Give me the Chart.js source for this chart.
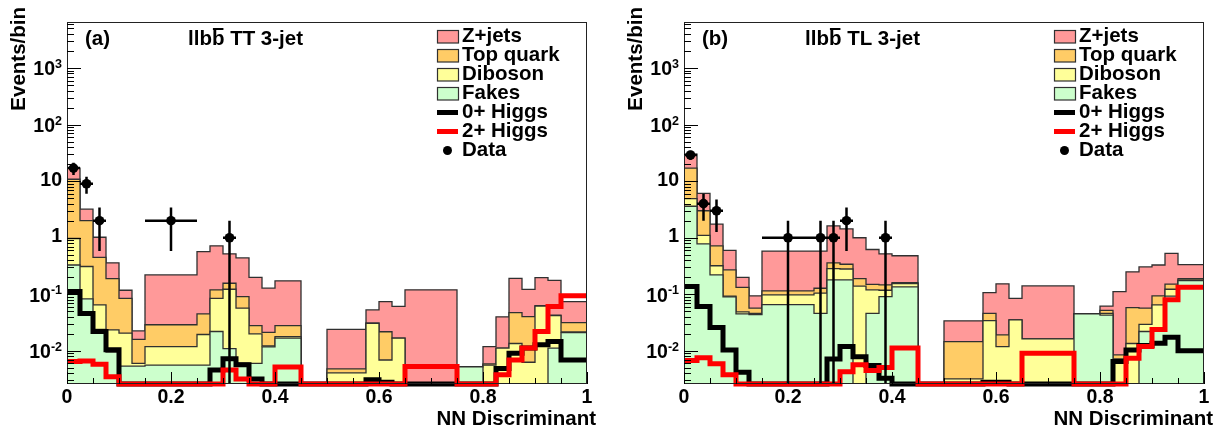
<!DOCTYPE html>
<html lang="en">
<head>
  <meta charset="UTF-8" />
  <title>NN Discriminant - llbb 3-jet</title>
  <script src="https://cdn.jsdelivr.net/npm/chart.js"></script>
  <style>
    body {
      margin: 0;
      background: #fff;
    }
    .wrap {
      position: relative;
      width: 1229px;
      height: 430px;
    }
    canvas {
      position: absolute;
      top: 0;
    }
    #chartTT { left: 0; }
    #chartTL { left: 614px; }
  </style>
</head>
<body>
  <div class="wrap">
    <canvas id="chartTT" width="614" height="430"></canvas>
    <canvas id="chartTL" width="615" height="430"></canvas>
  </div>

  <script>
    // bin edges of the NN discriminant (variable width, same in both panels)
    const binEdges = [0, 0.025, 0.05, 0.075, 0.1, 0.125, 0.15, 0.25, 0.275, 0.3, 0.325, 0.35, 0.375, 0.4, 0.45,
                      0.5, 0.575, 0.6, 0.625, 0.65, 0.75, 0.8, 0.825, 0.85, 0.875, 0.9, 0.925, 0.95, 1];

    // (a) TT 3-jet: per-process yields in each bin
    const zjetsTT   = [6.1, 1.2, 0.57, 0.17, 0.033, 0.0065, 0.191, 0.525, 0.60, 0.363, 0.349, 0.172, 0.107, 0.145,
                       0, 0.0193, 0.0222, 0.0522, 0.0442, 0.12, 0, 0.006, 0.0288, 0.1445, 0.0817, 0.134, 0.134, 0.0424];
    const topTT     = [9.83, 1.69, 0.385, 0.1665, 0.0644, 0.01, 0.0171, 0.0255, 0.035, 0.034, 0.034, 0.008, 0.009, 0.0101,
                       0, 0.0007, 0, 0.0149, 0, 0, 0, 0.0003, 0, 0.034, 0.034, 0.001, 0.001, 0.0099];
    const dibosonTT = [0.64, 0.227, 0.041, 0.014, 0.0152, 0.0006, 0.0063, 0.0139, 0.063, 0.112, 0.0509, 0.014, 0.0004, 0.0011,
                       0, 0.0041, 0.0308, 0.0069, 0.0168, 0, 0, 0.0056, 0.0112, 0.0135, 0.0063, 0.062, 0.0308, 0.0007];
    const fakesTT   = [0.33, 0.083, 0.024, 0.0095, 0.0054, 0.0054, 0.0056, 0.0056, 0.022, 0.011, 0.0061, 0.006, 0.0118, 0.0168,
                       0, 0, 0, 0, 0, 0, 0.0052, 0, 0, 0, 0, 0, 0.0112, 0.021];
    const higgs0TT  = [0.112, 0.046, 0.022, 0.0105, 0, 0, 0, 0, 0.0046, 0.0073, 0.0057, 0.0032, 0, 0,
                       0, 0, 0.0031, 0.0028, 0, 0, 0, 0, 0.0049, 0.0091, 0.0112, 0.0128, 0.0146, 0.0069];
    const higgs2TT  = [0.0065, 0.0066, 0.0058, 0.0035, 0, 0, 0, 0, 0, 0.0046, 0.0032, 0, 0, 0.0052,
                       0, 0, 0, 0, 0, 0.0053, 0, 0, 0.0038, 0.0069, 0.0112, 0.022, 0.061, 0.094];
    const dataXTT   = [0.0125, 0.0375, 0.0625, 0.2, 0.3125];
    const dataYTT   = [17, 9, 2, 2, 1];

    // (b) TL 3-jet
    const zjetsTL   = [13, 3.1, 1.02, 0.33, 0.067, 0.037, 0.465, 0.452, 1.26, 1.09, 0.81, 0.47, 0.373, 0.32,
                       0, 0.0194, 0.061, 0.1338, 0.0497, 0.1247, 0, 0.01, 0.1035, 0.192, 0.248, 0.236, 0.379, 0.145];
    const topTL     = [12.1, 1.9, 0.4, 0.177, 0.084, 0.011, 0.017, 0.023, 0.075, 0.06, 0.05, 0.03, 0.029, 0.005,
                       0, 0.0114, 0.0117, 0.0073, 0, 0, 0, 0.006, 0.0013, 0.0445, 0.0275, 0.029, 0.028, 0.01];
    const dibosonTL = [1.3, 0.32, 0.1, 0.003, 0.004, 0.002, 0.032, 0.059, 0.105, 0.1, 0.14, 0.074, 0.027, 0.02,
                       0, 0.0032, 0.0343, 0.0119, 0.0353, 0.0163, 0, 0.003, 0.0072, 0.0135, 0.0075, 0.041, 0.03, 0.005];
    const fakesTL   = [3.6, 0.78, 0.22, 0.09, 0.045, 0.044, 0.066, 0.046, 0.18, 0.18, 0, 0.046, 0.091, 0.135,
                       0, 0, 0, 0, 0, 0, 0.045, 0.043, 0, 0, 0.022, 0.024, 0.093, 0.175];
    const higgs0TL  = [0.137, 0.061, 0.026, 0.0104, 0.0042, 0, 0, 0, 0.0072, 0.0119, 0.0079, 0.0055, 0.0033, 0,
                       0, 0, 0.0028, 0.0028, 0, 0, 0, 0, 0.0065, 0.0104, 0.0125, 0.0137, 0.0175, 0.0101];
    const higgs2TL  = [0.0068, 0.0076, 0.0059, 0.0038, 0, 0, 0, 0, 0, 0.0043, 0.0057, 0.0045, 0.0051, 0.0112,
                       0, 0, 0, 0, 0, 0.0091, 0, 0, 0, 0.0074, 0.012, 0.024, 0.08, 0.133];
    const dataXTL   = [0.0125, 0.0375, 0.0625, 0.2, 0.2625, 0.2875, 0.3125, 0.3875];
    const dataYTL   = [29, 4, 3, 1, 1, 1, 2, 1];

    // axis ticks and legend text
    const xTickValues = [0, 0.2, 0.4, 0.6, 0.8, 1];
    const xTickLabels = ['0', '0.2', '0.4', '0.6', '0.8', '1'];
    const yTickValues = [0.01, 0.1, 1, 10, 100, 1000];
    const yTickBase   = ['10', '10', '1', '10', '10', '10'];
    const yTickExp    = ['-2', '-1', '', '', '2', '3'];
    const legendLabels = ['Z+jets', 'Top quark', 'Diboson', 'Fakes', '0+ Higgs', '2+ Higgs', 'Data'];

    const FONT = '"Liberation Sans", Arial, sans-serif';
    const YMIN = 0.0026, YMAX = 6500;
    const colZjets = '#ff9999', colTop = '#ffcc66', colDiboson = '#ffff99', colFakes = '#ccffcc';
    const colOutline = '#303030';

    // histogram -> points for a stepped line (left edge of each bin + final right edge)
    function stepPoints(vals, floor) {
      const pts = vals.map((v, i) => ({ x: binEdges[i], y: Math.max(v, floor) }));
      pts.push({ x: binEdges[vals.length], y: pts[pts.length - 1].y });
      return pts;
    }

    // running sums, bottom layer first
    function stackUp(...layers) {
      let run = layers[0].map(() => 0);
      return layers.map(l => (run = run.map((s, i) => s + l[i])));
    }

    const rootStyle = {
      id: 'rootStyle',
      afterDatasetsDraw(chart) {
        const { ctx, chartArea: a, scales: { x, y } } = chart;
        const o = chart.options.plugins.rootStyle;
        ctx.save();

        // data error bars
        ctx.strokeStyle = '#000';
        ctx.lineWidth = 2.5;
        o.dataX.forEach((dx, i) => {
          const n = o.dataY[i], e = Math.sqrt(n);
          const k = binEdges.findIndex((b, j) => dx >= b && dx < binEdges[j + 1]);
          const px = x.getPixelForValue(dx), py = y.getPixelForValue(n);
          const yHi = y.getPixelForValue(n + e);
          const yLo = n - e > YMIN ? y.getPixelForValue(n - e) : a.bottom;
          ctx.beginPath();
          ctx.moveTo(px, yHi); ctx.lineTo(px, yLo);
          ctx.moveTo(x.getPixelForValue(binEdges[k]), py);
          ctx.lineTo(x.getPixelForValue(binEdges[k + 1]), py);
          ctx.stroke();
        });

        // frame
        ctx.strokeStyle = '#222';
        ctx.lineWidth = 1;
        ctx.strokeRect(a.left + 0.5, a.top + 0.5, a.right - a.left - 1, a.bottom - a.top - 1);

        // inward ticks
        ctx.strokeStyle = '#000';
        ctx.beginPath();
        for (let i = 0; i <= 20; i++) {
          const px = Math.round(x.getPixelForValue(i / 20)) + 0.5;
          const len = i % 4 === 0 ? 12 : 6;
          ctx.moveTo(px, a.bottom); ctx.lineTo(px, a.bottom - len);
        }
        for (let d = -3; d <= 3; d++) {
          for (let m = 1; m <= 9; m++) {
            const v = m * Math.pow(10, d);
            if (v < YMIN || v > YMAX) continue;
            const py = Math.round(y.getPixelForValue(v)) + 0.5;
            ctx.moveTo(a.left, py); ctx.lineTo(a.left + (m === 1 ? 14 : 7), py);
          }
        }
        ctx.stroke();
        ctx.restore();
      },
      afterDraw(chart) {
        const { ctx, chartArea: a, scales: { x, y } } = chart;
        const o = chart.options.plugins.rootStyle;
        ctx.save();
        ctx.fillStyle = '#000';

        // tick labels
        ctx.font = `bold 19.5px ${FONT}`;
        ctx.textAlign = 'center';
        ctx.textBaseline = 'alphabetic';
        xTickValues.forEach((v, i) => ctx.fillText(xTickLabels[i], x.getPixelForValue(v), a.bottom + 19));

        ctx.textAlign = 'right';
        yTickValues.forEach((v, i) => {
          const py = y.getPixelForValue(v);
          let right = a.left - 5;
          if (yTickExp[i]) {
            ctx.font = `bold 12.5px ${FONT}`;
            ctx.textBaseline = 'alphabetic';
            ctx.fillText(yTickExp[i], right, py);
            right -= ctx.measureText(yTickExp[i]).width;
            ctx.font = `bold 19.5px ${FONT}`;
            ctx.textBaseline = 'middle';
            ctx.fillText(yTickBase[i], right, py + 2);
          } else {
            ctx.font = `bold 19.5px ${FONT}`;
            ctx.textBaseline = 'middle';
            ctx.fillText(yTickBase[i], right, py - 1);
          }
        });

        // axis titles
        ctx.font = `bold 20.5px ${FONT}`;
        ctx.textBaseline = 'alphabetic';
        ctx.textAlign = 'right';
        ctx.fillText('NN Discriminant', a.right + 9, a.bottom + 41);
        ctx.save();
        ctx.translate(a.left - 42, a.top - 15);
        ctx.rotate(-Math.PI / 2);
        ctx.fillText('Events/bin', 0, 0);
        ctx.restore();

        // panel label and channel title (llb + b with a bar)
        ctx.textAlign = 'left';
        const ty = a.top + 23;
        ctx.fillText(o.tag, a.left + 18, ty);
        let tx = a.left + 121;
        ctx.fillText('llb', tx, ty);
        tx += ctx.measureText('llb').width;
        const bw = ctx.measureText('b').width;
        ctx.fillText('b', tx, ty);
        ctx.fillRect(tx + 1, ty - 17, bw - 2, 2);
        tx += bw;
        ctx.fillText(' ' + o.region + ' 3-jet', tx, ty);

        // legend
        const fills = [colZjets, colTop, colDiboson, colFakes];
        const sx = a.left + 370, sw = 21;
        legendLabels.forEach((lab, i) => {
          const cy = a.top + 14.5 + 19 * i;
          if (i < 4) {
            ctx.fillStyle = fills[i];
            ctx.fillRect(sx, cy - 6.5, sw, 13);
            ctx.strokeStyle = colOutline;
            ctx.lineWidth = 1.2;
            ctx.strokeRect(sx + 0.5, cy - 6, sw, 12.5);
          } else if (i < 6) {
            ctx.fillStyle = i === 4 ? '#000' : '#ff0000';
            ctx.fillRect(sx, cy - 2.5, sw, 5);
          } else {
            ctx.fillStyle = '#000';
            ctx.beginPath();
            ctx.arc(sx + sw / 2, cy, 4.5, 0, Math.PI * 2);
            ctx.fill();
          }
          ctx.fillStyle = '#000';
          ctx.font = `bold 20.5px ${FONT}`;
          ctx.fillText(lab, a.left + 395, cy + 5);
        });
        ctx.restore();
      }
    };

    function buildPanel(canvasId, tag, region, s, pad) {
      const [cFakes, cDib, cTop, cZ] = stackUp(s.fakes, s.diboson, s.top, s.zjets);
      const filled = (vals, color, order) => ({
        data: stepPoints(vals, 1e-6), stepped: 'before', fill: 'start',
        backgroundColor: color, borderColor: colOutline, borderWidth: 1.3,
        pointRadius: 0, order
      });
      const line = (vals, color, order) => ({
        data: stepPoints(vals, YMIN), stepped: 'before', fill: false,
        borderColor: color, borderWidth: 5, borderJoinStyle: 'miter',
        pointRadius: 0, clip: false, order
      });

      return new Chart(document.getElementById(canvasId), {
        type: 'line',
        data: {
          datasets: [
            filled(cZ, colZjets, 9),
            filled(cTop, colTop, 8),
            filled(cDib, colDiboson, 7),
            filled(cFakes, colFakes, 6),
            line(s.higgs0, '#000000', 3),
            line(s.higgs2, '#ff0000', 2),
            {
              data: s.dataX.map((v, i) => ({ x: v, y: s.dataY[i] })),
              showLine: false, pointRadius: 4.8, pointBackgroundColor: '#000',
              pointBorderWidth: 0, order: 1
            }
          ]
        },
        options: {
          responsive: false,
          animation: false,
          devicePixelRatio: 1,
          events: [],
          layout: { padding: pad },
          scales: {
            x: { type: 'linear', min: 0, max: 1, display: false },
            y: { type: 'logarithmic', min: YMIN, max: YMAX, display: false }
          },
          plugins: {
            legend: { display: false },
            tooltip: { enabled: false },
            rootStyle: { tag, region, dataX: s.dataX, dataY: s.dataY }
          }
        },
        plugins: [rootStyle]
      });
    }

    buildPanel('chartTT', '(a)', 'TT', {
      zjets: zjetsTT, top: topTT, diboson: dibosonTT, fakes: fakesTT,
      higgs0: higgs0TT, higgs2: higgs2TT, dataX: dataXTT, dataY: dataYTT
    }, { left: 67, right: 27, top: 22, bottom: 46 });

    buildPanel('chartTL', '(b)', 'TL', {
      zjets: zjetsTL, top: topTL, diboson: dibosonTL, fakes: fakesTL,
      higgs0: higgs0TL, higgs2: higgs2TL, dataX: dataXTL, dataY: dataYTL
    }, { left: 70, right: 25, top: 22, bottom: 46 });
  </script>
</body>
</html>
